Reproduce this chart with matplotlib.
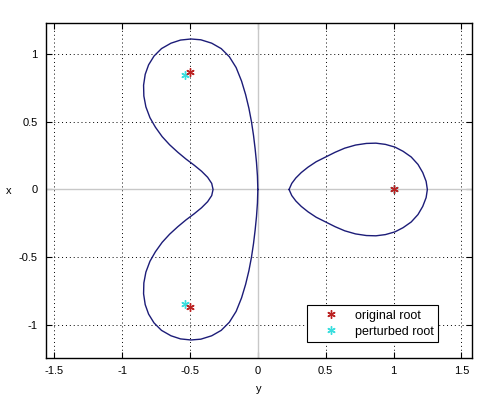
import matplotlib
matplotlib.use("Agg")
import matplotlib.pyplot as plt

plt.rcParams['font.family'] = ['Liberation Sans', 'DejaVu Sans']
plt.rcParams['axes.unicode_minus'] = False

# Left (two-lobed) contour
left_x = [0.0, -0.003, -0.010, -0.020, -0.032, -0.047, -0.066, -0.090, -0.120, -0.160,
          -0.210, -0.270, -0.340, -0.420, -0.493, -0.570, -0.640, -0.710, -0.765, -0.805,
          -0.830, -0.842, -0.840, -0.825, -0.795, -0.755, -0.705, -0.650, -0.590, -0.530,
          -0.470, -0.415, -0.370, -0.340, -0.330,
          -0.340, -0.370, -0.415, -0.470, -0.530, -0.590, -0.650, -0.705, -0.755, -0.795,
          -0.825, -0.840, -0.842, -0.830, -0.805, -0.765, -0.710, -0.640, -0.570, -0.493,
          -0.420, -0.340, -0.270, -0.210, -0.160, -0.120, -0.090, -0.066, -0.047, -0.032,
          -0.020, -0.010, -0.003, 0.0]
left_y = [0.0, 0.10, 0.20, 0.30, 0.40, 0.50, 0.60, 0.70, 0.80, 0.90,
          0.98, 1.04, 1.08, 1.105, 1.111, 1.103, 1.08, 1.04, 0.985, 0.92,
          0.85, 0.77, 0.69, 0.61, 0.53, 0.46, 0.39, 0.33, 0.275, 0.225,
          0.18, 0.135, 0.09, 0.045, 0.0,
          -0.045, -0.09, -0.135, -0.18, -0.225, -0.275, -0.33, -0.39, -0.46, -0.53,
          -0.61, -0.69, -0.77, -0.85, -0.92, -0.985, -1.04, -1.08, -1.103, -1.111,
          -1.105, -1.08, -1.04, -0.98, -0.90, -0.80, -0.70, -0.60, -0.50, -0.40,
          -0.30, -0.20, -0.10, 0.0]

# Right (egg-shaped) contour
right_x = [0.230, 0.250, 0.280, 0.320, 0.370, 0.430, 0.500, 0.570, 0.640, 0.720,
           0.800, 0.870, 0.940, 1.010, 1.070, 1.130, 1.180, 1.215, 1.240, 1.249,
           1.240, 1.215, 1.180, 1.130, 1.070, 1.010, 0.940, 0.870, 0.800, 0.720,
           0.640, 0.570, 0.500, 0.430, 0.370, 0.320, 0.280, 0.250, 0.230]
right_y = [0.0, 0.045, 0.085, 0.125, 0.165, 0.205, 0.240, 0.275, 0.305, 0.328,
           0.340, 0.342, 0.333, 0.313, 0.282, 0.240, 0.185, 0.125, 0.060, 0.0,
           -0.060, -0.125, -0.185, -0.240, -0.282, -0.313, -0.333, -0.342, -0.340, -0.328,
           -0.305, -0.275, -0.240, -0.205, -0.165, -0.125, -0.085, -0.045, 0.0]

orig_x = [1.0, -0.5, -0.5]
orig_y = [0.0, 0.866, -0.866]
pert_x = [1.0, -0.54, -0.54]
pert_y = [0.0, 0.845, -0.847]

xticks = [-1.5, -1, -0.5, 0, 0.5, 1, 1.5]
xticklabels = ['-1.5', '-1', '-0.5', '0', '0.5', '1', '1.5']
yticks = [-1, -0.5, 0, 0.5, 1]
yticklabels = ['-1', '-0.5', '0', '0.5', '1']

fig = plt.figure(figsize=(4.89, 3.98), dpi=100)
ax = fig.add_axes([46/489, 1-358/398, 426/489, 335/398])
ax.set_axisbelow(True)

ax.axhline(0, color='#c8c8c8', lw=1.0, zorder=1)
ax.axvline(0, color='#c8c8c8', lw=1.0, zorder=1)

navy = '#1c1c78'
ax.plot(left_x, left_y, color=navy, lw=1.0, zorder=3)
ax.plot(right_x, right_y, color=navy, lw=1.0, zorder=3)

ast = (6, 2, 0)
ax.plot(pert_x, pert_y, linestyle='none', marker=ast, ms=6, mew=1.0,
        color='#3adede', label='perturbed root', zorder=4)
ax.plot(orig_x, orig_y, linestyle='none', marker=ast, ms=6, mew=1.0,
        color='#bb2222', label='original root', zorder=5)

ax.set_xlim(-1.561, 1.578)
ax.set_ylim(-1.244, 1.229)
ax.set_xticks(xticks)
ax.set_xticklabels(xticklabels)
ax.set_yticks(yticks)
ax.set_yticklabels(yticklabels)
ax.grid(True, color='black', linestyle=(0, (1, 3)), linewidth=0.7)
ax.tick_params(direction='in', length=4, width=0.8, top=True, right=True,
               labelsize=8, pad=6)
for s in ax.spines.values():
    s.set_linewidth(1.0)
    s.set_zorder(6)

ax.set_xlabel('y', fontsize=8, va='center')
ax.set_ylabel('x', fontsize=8, rotation=0, va='center', ha='center')
ax.xaxis.set_label_coords(0.5, -0.0925)
ax.yaxis.set_label_coords(-0.087, 0.5)

h, l = ax.get_legend_handles_labels()
leg = ax.legend([h[1], h[0]], [l[1], l[0]], loc='lower right',
                bbox_to_anchor=(0.92, 0.048), borderaxespad=0, fontsize=9,
                fancybox=False, framealpha=1, edgecolor='black',
                handlelength=3.2, handletextpad=0.3, borderpad=0.35, labelspacing=0.3)
leg.get_frame().set_linewidth(0.8)
leg.set_zorder(7)

fig.savefig('out.png', dpi=100)
